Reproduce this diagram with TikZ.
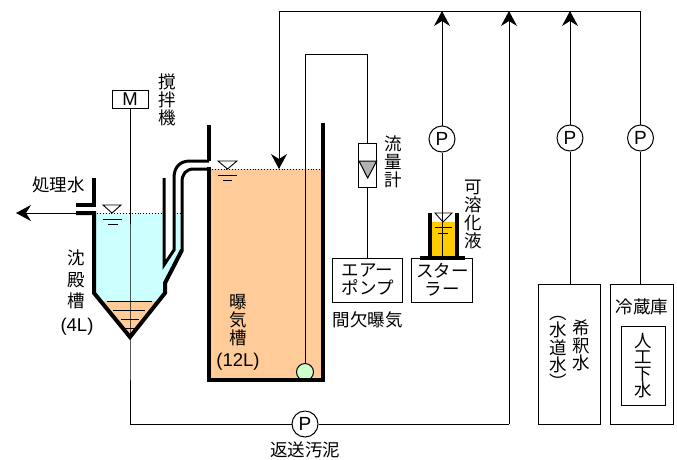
\documentclass[tikz,border=0pt]{standalone}
\usepackage{fontspec}
\setmainfont{Noto Sans CJK JP}
\newfontfamily\latinfont{Liberation Sans}
\usetikzlibrary{arrows.meta,calc,positioning}
\definecolor{sludge}{RGB}{255,204,153}
\definecolor{clearwater}{RGB}{204,255,255}
\definecolor{bubble}{RGB}{204,255,204}
\definecolor{solution}{RGB}{255,204,0}
\tikzset{
  pipe/.style={line width=1pt},
  wall/.style={line width=4pt},
  tube/.style={line width=3pt},
  pump/.style={circle,draw,line width=1pt,fill=white,minimum size=26pt,inner sep=0pt,font=\latinfont\fontsize{19}{19}\selectfont},
  box/.style={rectangle,draw,line width=1pt,inner sep=0pt,fill=white},
  txt/.style={align=center,inner sep=0pt,font=\fontsize{17.5}{18}\selectfont},
  lat/.style={align=center,inner sep=0pt,font=\latinfont\fontsize{18.5}{18.5}\selectfont},
  level/.style={line width=.9pt},
}

\begin{document}
\begin{tikzpicture}[x=1pt,y=-1pt,>={Stealth[length=15pt,width=16pt,inset=5pt]}]

    \useasboundingbox (0,0) rectangle (677,459);

    % water and sludge
    \fill[clearwater] (94,213) -- (182,213) -- (182,250) -- (165,283) -- (165,293) -- (130,337) -- (94,293) -- cycle;
    \fill[white] (164,213) -- (174,213) -- (174,250) -- (164,265) -- cycle;
    \fill[sludge] (100.5,301) -- (158.6,301) -- (130,337) -- cycle;
    \fill[sludge] (209,169) rectangle (323,380);
    \fill[solution] (429,222) rectangle (457,257);
    \draw[level,dotted] (94,213) -- (164,213) (174,213) -- (182,213);
    \draw[level,dotted] (209,169) -- (323,169);

    % boxes and pumps
    \node[box,minimum width=36pt,minimum height=18pt,font=\latinfont\fontsize{18.5}{18.5}\selectfont] (motor) at (130,99) {M};
    \node[box,minimum width=18pt,minimum height=44pt] (flowmeter) at (367.7,165) {};
    \node[box,minimum width=70pt,minimum height=44pt,txt] (airpump) at (367.7,280) {エアー\\ポンプ};
    \node[box,minimum width=61pt,minimum height=44pt,txt] (stirrer) at (442.3,280) {スター\\ラー};
    \node[box,minimum width=62pt,minimum height=140pt] (dilution) at (569.5,354) {};
    \node[box,minimum width=63pt,minimum height=140pt] (fridge) at (642,354) {};
    \node[box,minimum width=44pt,minimum height=79pt,txt,font=\fontsize{17.5}{16.5}\selectfont] (sewage) at (643,365.5) {人\\工\\下\\水};
    \node[pump] (pump-sol) at (442,139) {P};
    \node[pump] (pump-dil) at (570,138) {P};
    \node[pump] (pump-raw) at (640.5,138) {P};
    \node[pump] (pump-ret) at (305,424) {P};
    \node[circle,draw,line width=1pt,fill=bubble,minimum size=17pt,inner sep=0pt] (diffuser) at (305,372) {};

    \coordinate (tip) at (130,337);
    \coordinate (outlet) at (94,213);
    \coordinate (drain) at (16,213);
    \coordinate (inlet) at (279,169);
    \coordinate (corner-a) at (279,11);
    \coordinate (corner-b) at (640.5,11);
    \coordinate (join-sol) at (442,11);
    \coordinate (join-ret) at (509,11);
    \coordinate (join-dil) at (570,11);
    \coordinate (ret-a) at (130,424);
    \coordinate (ret-b) at (509,424);
    \coordinate (air-a) at (305,54.5);
    \coordinate (air-b) at (367.7,54.5);
    \coordinate (beaker) at (442,258);

    % connectors
    \draw[pipe] (motor) -- (tip) -- (ret-a) -- (pump-ret);
    \draw[pipe] (pump-ret) -- (ret-b);
    \draw[pipe,->] (ret-b) -- (join-ret);
    \draw[pipe,->] (corner-a) -- (inlet);
    \draw[pipe] (corner-a) -- (corner-b) -- (pump-raw);
    \draw[pipe] (pump-raw) -- (fridge.north -| pump-raw);
    \draw[pipe,->] (pump-dil) -- (join-dil);
    \draw[pipe] (pump-dil) -- (dilution.north -| pump-dil);
    \draw[pipe,->] (pump-sol) -- (join-sol);
    \draw[pipe] (pump-sol) -- (beaker);
    \draw[pipe] (diffuser) -- (air-a) -- (air-b) -- (flowmeter);
    \draw[pipe] (flowmeter) -- (airpump);
    \draw[pipe,->] (outlet) -- (drain);

    % tanks
    \draw[wall] (209,125) -- (209,161);
    \draw[wall,line cap=rect] (209,169) -- (209,380) -- (323,380) -- (323,125);
    \draw[wall] (94,178) -- (94,206.5) (96,205) -- (76,205);
    \draw[tube] (209,161) -- (190,161) .. controls (180,161) and (174,167) .. (174,178) -- (174,250) -- (164,265) -- (164,178);
    \draw[wall,line join=miter] (76,213) -- (94,213) -- (94,293) -- (130,337) -- (165,293) -- (165,283) -- (182,250);
    \draw[tube] (182,251) -- (182,182) .. controls (182,174) and (186,169) .. (194,169) -- (209,169);
    \fill[black] (420,256) rectangle (465,260);
    \draw[wall] (429.5,213) -- (429.5,257) (456.5,213) -- (456.5,257);

    % flow meter float
    \fill[black!30] (359,161) -- (376.7,161) -- (367.7,178) -- cycle;
    \draw[pipe] (359,161) -- (376.7,161) -- (367.7,178) -- cycle;

    % level marks
    \draw[level] (103,205) -- (121,205) -- (112,213) -- cycle;
    \draw[level] (103,219) -- (122,219) (108,224) -- (118,224);
    \draw[level] (218,161) -- (237,161) -- (227.5,169) -- cycle;
    \draw[level] (218,175) -- (237,175) (223,180) -- (232,180);
    \draw[level] (435,213) -- (452,213) -- (443,222) -- cycle;
    \draw[level] (435,227) -- (452,227) (438,233) -- (448,233);
    \draw[level] (107,301) -- (152,301) (113,310) -- (145,310) (121,319) -- (139,319) (125,328) -- (134,328);

    % labels
    \node[txt] (stir-label) at (167,100) {撹\\拌\\機};
    \node[txt] (out-label) at (58.5,184.5) {処理水};
    \node[txt,font=\fontsize{17.5}{21.5}\selectfont] (settle-label) at (76,279.5) {沈\\殿\\槽};
    \node[lat] (settle-vol) at (77,327) {(4L)};
    \node[txt] (aer-label) at (238,320) {曝\\気\\槽};
    \node[lat] (aer-vol) at (238,362) {(12L)};
    \node[txt] (flow-label) at (393,161.5) {流\\量\\計};
    \node[txt] (sol-label) at (473,214) {可\\溶\\化\\液};
    \node[txt] (air-label) at (367.7,320) {間欠曝気};
    \node[txt] (ret-label) at (305,449.5) {返送汚泥};
    \node[txt,font=\fontsize{17.5}{17.5}\selectfont] (dil-label) at (581,345.5) {希\\釈\\水};
    \node[txt,font=\fontsize{17.5}{17.3}\selectfont] (tap-label) at (558,352.5) {︵\\水\\道\\水\\︶};
    \node[txt] (fridge-label) at (642,307) {冷蔵庫};

\end{tikzpicture}
\end{document}
